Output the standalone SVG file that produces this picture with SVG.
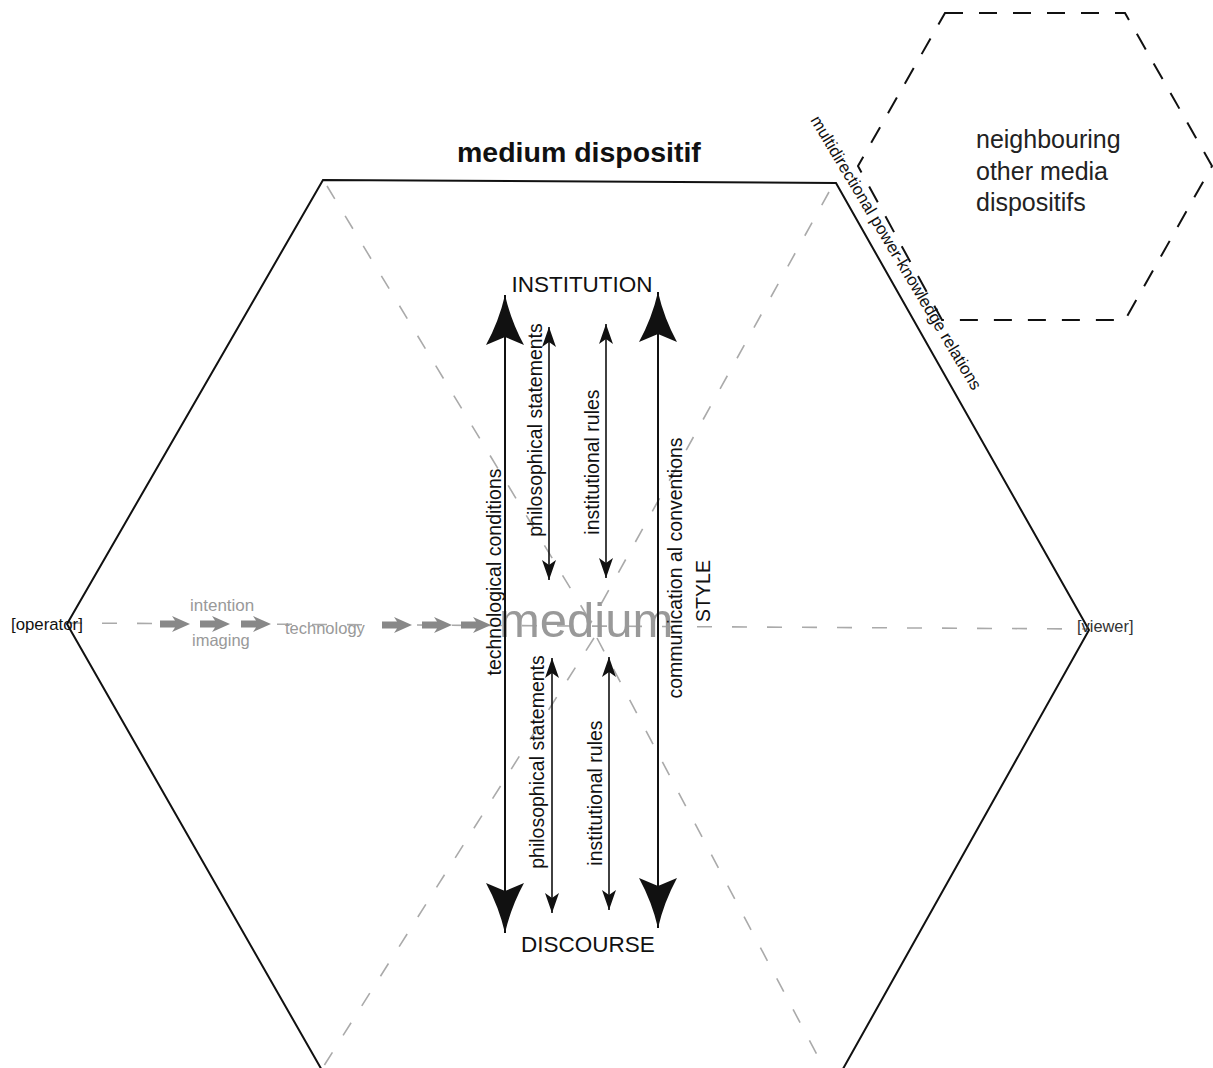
<svg xmlns="http://www.w3.org/2000/svg" width="1213" height="1068" viewBox="0 0 1213 1068">
<style>
text { font-family: "Liberation Sans", Arial, sans-serif; }
.hex { fill: none; stroke: #111; stroke-width: 2; }
.nhex { fill: none; stroke: #111; stroke-width: 2; stroke-dasharray: 18 16; }
.gdash { fill: none; stroke: #aaa; stroke-width: 1.6; stroke-dasharray: 15 20; }
.big { stroke: #111; stroke-width: 2; marker-start: url(#bighead); marker-end: url(#bighead); }
.small { stroke: #111; stroke-width: 1.6; marker-start: url(#smallhead); marker-end: url(#smallhead); }
.rot { font-size: 19.5px; fill: #111; text-anchor: middle; }
.cap { font-size: 22.5px; fill: #111; text-anchor: middle; }
.grey { fill: #999; }
.garrow { fill: #888; }
</style>
<defs>
<marker id="bighead" markerUnits="userSpaceOnUse" markerWidth="50" markerHeight="38" viewBox="0 0 50 38" refX="50" refY="19" orient="auto-start-reverse">
<path d="M50,19 Q24,13 0,0 L8,19 L0,38 Q24,25 50,19 Z" fill="#111"/>
</marker>
<marker id="smallhead" markerUnits="userSpaceOnUse" markerWidth="20" markerHeight="14" viewBox="0 0 20 14" refX="20" refY="7" orient="auto-start-reverse">
<path d="M20,7 L0,0 L5,7 L0,14 Z" fill="#111"/>
</marker>
<path id="ga" d="M0,-3.5 H15 L12,-8 L30,0 L12,8 L15,3.5 H0 Z"/>
</defs>
<rect width="1213" height="1068" fill="#fff"/>

<g id="guides">
<line class="gdash" x1="67" y1="623" x2="1089" y2="629"/>
<line class="gdash" x1="327" y1="186" x2="592" y2="624"/>
<line class="gdash" x1="829" y1="192" x2="590" y2="624"/>
<line class="gdash" x1="594" y1="638" x2="320" y2="1072"/>
<line class="gdash" x1="597" y1="638" x2="824" y2="1068"/>
</g>

<g id="medium-dispositif">
<path class="hex" d="M323,180 L836,183 L1089,630 L839,1076 L323,1072 L67,624 Z"/>
<text x="457" y="162" font-size="28.5" font-weight="bold" fill="#111">medium dispositif</text>
</g>

<g id="neighbouring">
<path class="nhex" d="M945,13 L1125,13 L1212,166 L1125,320 L942,320 L858,166 Z"/>
<text font-size="25" fill="#222"><tspan x="976" y="148">neighbouring</tspan><tspan x="976" y="180">other media</tspan><tspan x="976" y="211">dispositifs</tspan></text>
</g>

<g id="relations-label">
<text transform="translate(810,120) rotate(59.07)" font-size="16.8" fill="#111">multidirectional power-knowledge relations</text>
</g>

<g id="medium">
<text x="499" y="637" font-size="49" fill="#999">medium</text>
</g>

<g id="operator">
<text x="11" y="630" font-size="16.8" fill="#111">[operator]</text>
</g>
<g id="viewer">
<text x="1077" y="632" font-size="16.4" fill="#333">[viewer]</text>
</g>

<g id="imaging-chain">
<text class="grey" x="190" y="611" font-size="17">intention</text>
<text class="grey" x="192" y="646" font-size="16.5">imaging</text>
<text class="grey" x="285" y="634" font-size="16.5">technology</text>
</g>

<g id="institution"><text class="cap" x="582" y="292">INSTITUTION</text></g>
<g id="discourse"><text class="cap" x="588" y="952" font-size="21.5">DISCOURSE</text></g>

<g id="connectors">
<use href="#ga" class="garrow" x="160" y="624"/>
<use href="#ga" class="garrow" x="200" y="624"/>
<use href="#ga" class="garrow" x="241" y="624"/>
<use href="#ga" class="garrow" x="382" y="625"/>
<use href="#ga" class="garrow" x="422" y="625"/>
<use href="#ga" class="garrow" x="461" y="625"/>
<line class="big" x1="505" y1="295" x2="505" y2="933"/>
<line class="big" x1="658" y1="292" x2="658" y2="928"/>
<line class="small" x1="549" y1="327" x2="549" y2="580"/>
<line class="small" x1="606" y1="324" x2="606" y2="578"/>
<line class="small" x1="552" y1="658" x2="552" y2="913"/>
<line class="small" x1="609" y1="657" x2="609" y2="910"/>
</g>

<g id="arrow-labels">
<text class="rot" transform="translate(501,572) rotate(-90)">technological conditions</text>
<text class="rot" transform="translate(542,430) rotate(-90)">philosophical statements</text>
<text class="rot" transform="translate(599,462) rotate(-90)">institutional rules</text>
<text class="rot" transform="translate(682,568) rotate(-90)">communication al conventions</text>
<text class="rot" transform="translate(710,591) rotate(-90)" font-size="21">STYLE</text>
<text class="rot" transform="translate(544,762) rotate(-90)">philosophical statements</text>
<text class="rot" transform="translate(602,793) rotate(-90)">institutional rules</text>
</g>
</svg>
